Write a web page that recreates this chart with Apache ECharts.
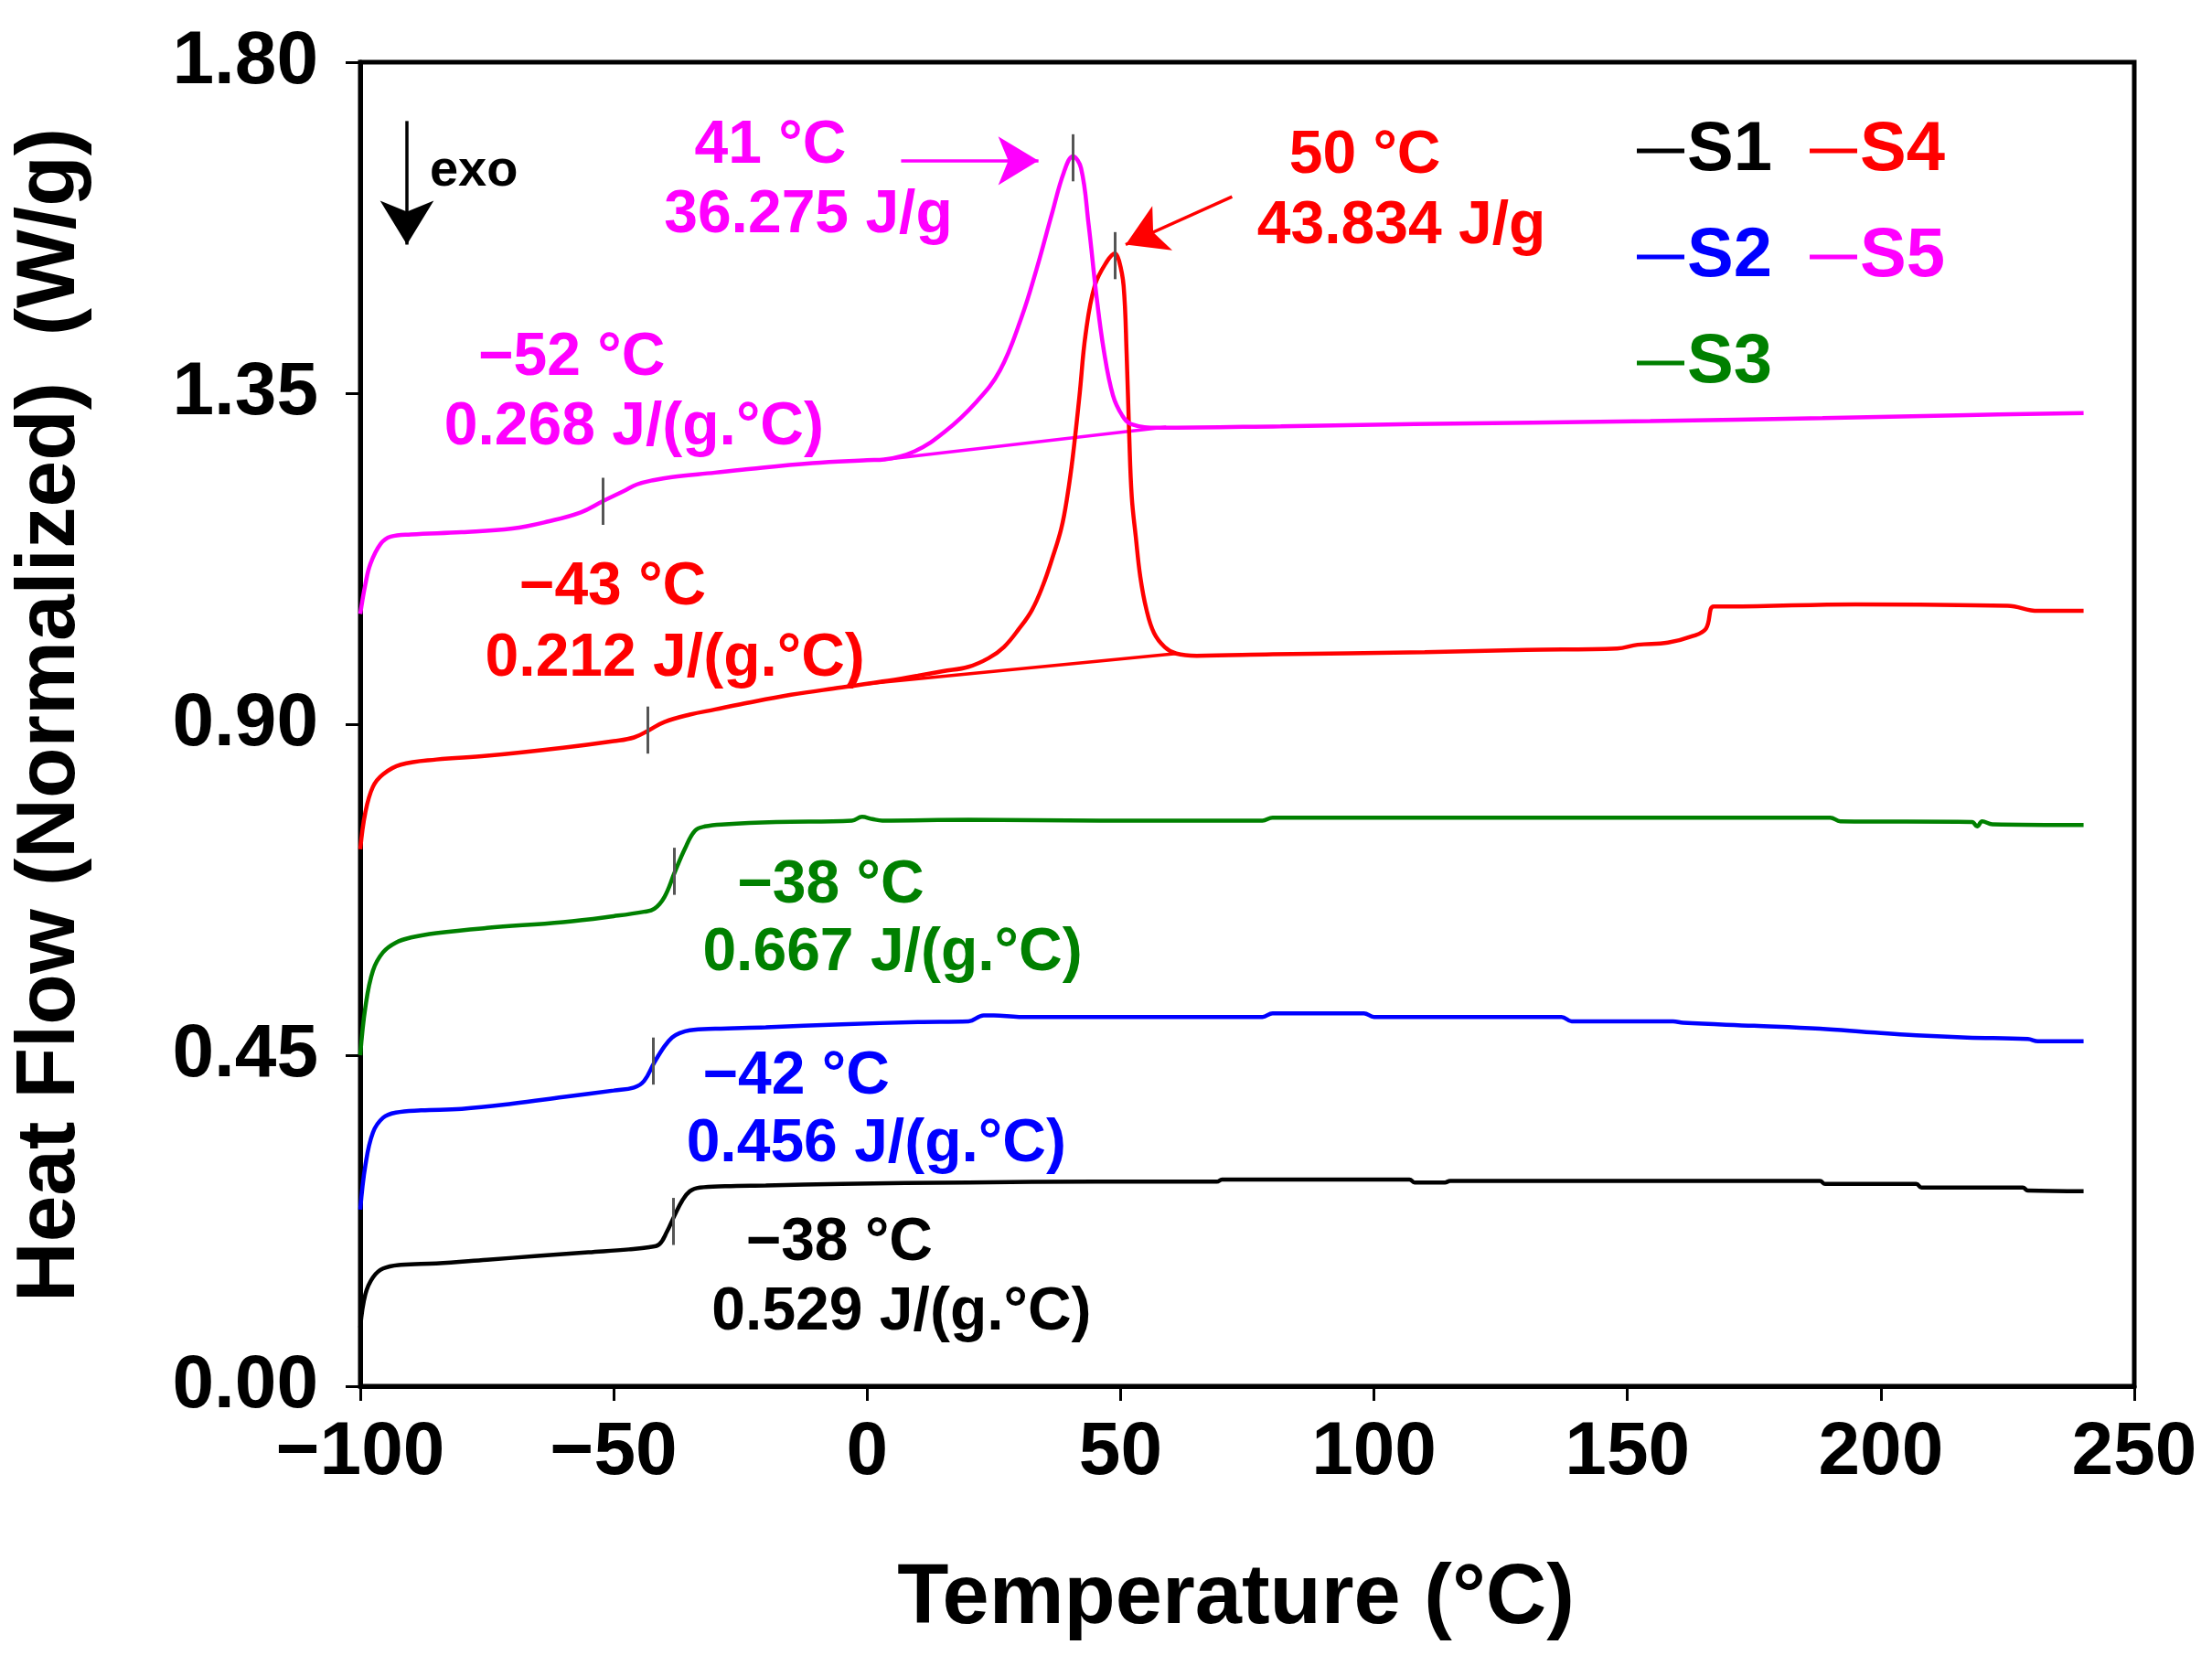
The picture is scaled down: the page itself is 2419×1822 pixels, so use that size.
<!DOCTYPE html>
<html>
<head>
<meta charset="utf-8">
<script src="https://cdn.jsdelivr.net/npm/echarts@6/dist/echarts.min.js"></script>
<style>
  html, body { margin: 0; padding: 0; background: #fff; }
  #chart { width: 2419px; height: 1822px; }
</style>
</head>
<body>
<div id="chart"></div>
<script>
// DSC curves (temperature in °C, heat flow in W/g)
var s1T = [-100, -99, -97.5, -95.5, -92, -85, -75, -65, -55, -47, -43, -41, -39.5, -38, -36.5, -35, -33, -28, -20, -5, 20, 45, 69, 70, 107, 108, 114, 115, 188, 189, 207, 208, 228, 229, 240];
var s1Y = [0.08, 0.125, 0.148, 0.160, 0.165, 0.167, 0.172, 0.177, 0.182, 0.186, 0.189, 0.193, 0.210, 0.232, 0.252, 0.265, 0.270, 0.272, 0.273, 0.275, 0.277, 0.278, 0.278, 0.281, 0.281, 0.277, 0.277, 0.279, 0.279, 0.275, 0.275, 0.270, 0.270, 0.266, 0.265];

var s2T = [-100, -99, -97.5, -95.5, -93, -88, -80, -70, -60, -50, -46, -44, -42, -40, -38.5, -37, -35, -30, -20, -5, 10, 20, 23, 25, 30, 45, 78, 80, 98, 100, 137, 139, 159, 161, 175, 188, 198, 207, 217, 229, 231, 240];
var s2Y = [0.24, 0.30, 0.345, 0.365, 0.372, 0.375, 0.377, 0.384, 0.393, 0.402, 0.406, 0.415, 0.440, 0.462, 0.474, 0.480, 0.484, 0.486, 0.488, 0.492, 0.495, 0.496, 0.504, 0.504, 0.502, 0.502, 0.502, 0.507, 0.507, 0.502, 0.502, 0.496, 0.496, 0.494, 0.490, 0.486, 0.481, 0.477, 0.474, 0.472, 0.469, 0.469];

var s3T = [-100, -99, -97.5, -95.5, -93, -90, -85, -75, -60, -50, -44, -42, -40, -38, -36, -34, -32, -28, -18, -3, -1, 1, 3, 20, 46, 78, 80, 190, 192, 218, 219, 220, 222, 240];
var s3Y = [0.45, 0.515, 0.565, 0.590, 0.603, 0.610, 0.616, 0.623, 0.631, 0.639, 0.645, 0.649, 0.665, 0.698, 0.730, 0.755, 0.761, 0.764, 0.767, 0.769, 0.774, 0.771, 0.769, 0.770, 0.769, 0.769, 0.773, 0.773, 0.768, 0.767, 0.761, 0.768, 0.764, 0.763];

var s4T = [-100, -99, -97.5, -95.5, -92, -85, -75, -60, -50, -46, -43, -40, -35, -30, -25, -15, -5, 3, 10, 15, 20, 24, 27, 30, 32.5, 34.7, 36.5, 38.3, 39.5, 40.6, 41.9, 43.1, 44.9, 47.3, 48.9, 49.7, 50.6, 51.2, 51.7, 52.2, 53, 53.9, 55.1, 56.6, 58.7, 61, 65, 80, 110, 130, 148, 152, 158, 163, 165.5, 167, 170, 195, 225, 231, 240];
var s4Y = [0.73, 0.78, 0.815, 0.832, 0.845, 0.852, 0.857, 0.868, 0.877, 0.882, 0.892, 0.903, 0.913, 0.920, 0.927, 0.940, 0.950, 0.958, 0.966, 0.972, 0.978, 0.990, 1.005, 1.030, 1.055, 1.089, 1.125, 1.166, 1.210, 1.265, 1.347, 1.430, 1.496, 1.529, 1.540, 1.530, 1.496, 1.403, 1.294, 1.210, 1.155, 1.100, 1.056, 1.024, 1.005, 0.996, 0.993, 0.995, 0.998, 1.001, 1.003, 1.008, 1.011, 1.020, 1.030, 1.060, 1.060, 1.063, 1.061, 1.054, 1.054];

var s5T = [-100, -99, -98, -96, -94, -90, -80, -70, -62.7, -56.5, -52.2, -48, -45.4, -42, -38.5, -30, -24.7, -10.8, 0, 3.4, 9.4, 15.4, 21.4, 26.2, 30.4, 33.4, 36.5, 38.8, 40.6, 42.2, 43.7, 45.2, 46.7, 48.5, 50.3, 52.1, 57.5, 81.6, 108, 154.5, 188.5, 215, 240];
var s5Y = [1.05, 1.09, 1.118, 1.145, 1.155, 1.158, 1.161, 1.166, 1.176, 1.188, 1.203, 1.217, 1.226, 1.232, 1.236, 1.242, 1.246, 1.255, 1.259, 1.260, 1.271, 1.298, 1.337, 1.381, 1.452, 1.518, 1.595, 1.650, 1.672, 1.656, 1.579, 1.485, 1.408, 1.347, 1.320, 1.308, 1.303, 1.305, 1.308, 1.312, 1.316, 1.320, 1.323];

// integration baselines under the melting peaks
var s4BaseT = [0, 61];
var s4BaseY = [0.955, 0.996];
var s5BaseT = [3.4, 59];
var s5BaseY = [1.260, 1.304];

// short vertical marker ticks: [temperature, heat flow]
var s1Marks = [[-38.3, 0.224]];
var s2Marks = [[-42.2, 0.442]];
var s3Marks = [[-38, 0.700]];
var s4Marks = [[-43.3, 0.892], [48.9, 1.537]];
var s5Marks = [[-52.2, 1.203], [40.6, 1.670]];

// annotation texts: [temperature, heat flow, text]
var s1Notes = [[-5.5, 0.194, '\u221238 \u00b0C'], [6.8, 0.100, '0.529 J/(g.\u00b0C)']];
var s2Notes = [[-14, 0.420, '\u221242 \u00b0C'], [1.8, 0.329, '0.456 J/(g.\u00b0C)']];
var s3Notes = [[-7.2, 0.680, '\u221238 \u00b0C'], [5, 0.588, '0.667 J/(g.\u00b0C)']];
var s4Notes = [[-50.2, 1.085, '\u221243 \u00b0C'], [-37.9, 0.988, '0.212 J/(g.\u00b0C)'], [98.2, 1.672, '50 \u00b0C'], [105.4, 1.576, '43.834 J/g']];
var s5Notes = [[-58.3, 1.397, '\u221252 \u00b0C'], [-46, 1.303, '0.268 J/(g.\u00b0C)'], [-19.1, 1.686, '41 \u00b0C'], [-11.6, 1.591, '36.275 J/g']];
var exoNote = [[-77.6, 1.651, 'exo']];

// arrows: [[x0, y0], [x1, y1]]
var exoArrow = [[-90.8, 1.720], [-90.8, 1.552]];
var s5Arrow = [[6.7, 1.666], [33.8, 1.666]];
var s4Arrow = [[72, 1.617], [51, 1.552]];

var names = ['S1', 'S2', 'S3', 'S4', 'S5'];
var colors = ['#000000', '#0000ff', '#008000', '#ff0000', '#ff00ff'];

var FONT = '"Liberation Sans", Arial, sans-serif';
var MARK_HALF = 0.032;

function zip(a, b) {
  var out = [];
  for (var i = 0; i < a.length; i++) out.push([a[i], b[i]]);
  return out;
}

function tickLines(marks) {
  return marks.map(function (m) {
    return [{ coord: [m[0], m[1] - MARK_HALF] }, { coord: [m[0], m[1] + MARK_HALF] }];
  });
}

function curve(name, color, t, y, marks, arrow) {
  var ml = tickLines(marks).map(function (d) {
    return [Object.assign({ lineStyle: { color: '#555', width: 3, type: 'solid' }, symbol: 'none' }, d[0]), d[1]];
  });
  if (arrow) {
    ml.push([{ coord: arrow[0], symbol: 'none', lineStyle: { color: color, width: 3.5, type: 'solid' } },
             { coord: arrow[1], symbol: 'arrow', symbolSize: [40, 44] }]);
  }
  return {
    name: name,
    type: 'line',
    data: zip(t, y),
    showSymbol: false,
    smooth: 0.4,
    lineStyle: { color: color, width: 4.5 },
    itemStyle: { color: color },
    silent: true,
    z: 3,
    markLine: {
      silent: true,
      symbol: ['none', 'none'],
      label: { show: false },
      animation: false,
      data: ml
    }
  };
}

function baseline(color, t, y) {
  return {
    type: 'line',
    data: zip(t, y),
    showSymbol: false,
    lineStyle: { color: color, width: 3.5 },
    silent: true,
    z: 2
  };
}

function notes(list, color, size) {
  return {
    type: 'scatter',
    symbolSize: 0,
    silent: true,
    z: 5,
    itemStyle: { opacity: 1, color: color },
    data: list.map(function (n) { return { value: [n[0], n[1]], name: n[2] }; }),
    label: {
      show: true,
      position: 'inside',
      formatter: '{b}',
      color: color,
      opacity: 1,
      fontFamily: FONT,
      fontWeight: 'bold',
      fontSize: size
    }
  };
}

var chart = echarts.init(document.getElementById('chart'), null, { renderer: 'canvas' });

var exoSeries = notes(exoNote, '#000', 56);
exoSeries.markLine = {
  silent: true,
  symbol: ['none', 'arrow'],
  symbolSize: [44, 48],
  label: { show: false },
  lineStyle: { color: '#000', width: 3.5, type: 'solid' },
  data: [[{ coord: exoArrow[0] }, { coord: exoArrow[1] }]]
};

function legendBlock(list, left) {
  return {
    orient: 'vertical',
    left: left,
    top: 122,
    itemGap: 40,
    itemWidth: 52,
    itemHeight: 5,
    icon: 'rect',
    selectedMode: false,
    data: list.map(function (n) {
      var c = colors[names.indexOf(n)];
      return { name: n, textStyle: { color: c } };
    }),
    textStyle: { fontFamily: FONT, fontWeight: 'bold', fontSize: 76, padding: [0, 0, 0, -2] }
  };
}

var option = {
  backgroundColor: '#fff',
  animation: false,
  textStyle: { fontFamily: FONT },
  grid: {
    left: 394, right: 85, top: 68, bottom: 306,
    show: true, borderColor: '#000', borderWidth: 5, backgroundColor: 'transparent'
  },
  legend: [legendBlock(['S1', 'S2', 'S3'], 1785), legendBlock(['S4', 'S5'], 1974)],
  xAxis: {
    type: 'value',
    min: -100, max: 250, interval: 50,
    name: 'Temperature (\u00b0C)',
    nameLocation: 'middle',
    nameGap: 188,
    nameTextStyle: { fontFamily: FONT, fontWeight: 'bold', fontSize: 92, color: '#000', padding: [0, 25, 0, 0] },
    axisLine: { onZero: false, lineStyle: { color: '#000', width: 5 } },
    axisTick: { show: true, inside: false, length: 16, lineStyle: { color: '#000', width: 3 } },
    axisLabel: {
      fontFamily: FONT, fontWeight: 'bold', fontSize: 82, color: '#000', margin: 32,
      formatter: function (v) { return String(v).replace('-', '\u2212'); }
    },
    splitLine: { show: false }
  },
  yAxis: {
    type: 'value',
    min: 0, max: 1.8, interval: 0.45,
    name: 'Heat Flow (Normalized)  (W/g)',
    nameLocation: 'middle',
    nameGap: 293,
    nameTextStyle: { fontFamily: FONT, fontWeight: 'bold', fontSize: 91, color: '#000', padding: [0, 0, 0, 20] },
    axisLine: { onZero: false, lineStyle: { color: '#000', width: 5 } },
    axisTick: { show: true, inside: false, length: 16, lineStyle: { color: '#000', width: 3 } },
    axisLabel: {
      fontFamily: FONT, fontWeight: 'bold', fontSize: 82, color: '#000', margin: 46,
      formatter: function (v) { return v.toFixed(2); }
    },
    splitLine: { show: false }
  },
  series: [
    curve('S1', colors[0], s1T, s1Y, s1Marks),
    curve('S2', colors[1], s2T, s2Y, s2Marks),
    curve('S3', colors[2], s3T, s3Y, s3Marks),
    curve('S4', colors[3], s4T, s4Y, s4Marks, s4Arrow),
    curve('S5', colors[4], s5T, s5Y, s5Marks, s5Arrow),
    baseline(colors[3], s4BaseT, s4BaseY),
    baseline(colors[4], s5BaseT, s5BaseY),
    notes(s1Notes, colors[0], 66),
    notes(s2Notes, colors[1], 66),
    notes(s3Notes, colors[2], 66),
    notes(s4Notes, colors[3], 66),
    notes(s5Notes, colors[4], 66),
    exoSeries
  ]
};

chart.setOption(option);
</script>
</body>
</html>
